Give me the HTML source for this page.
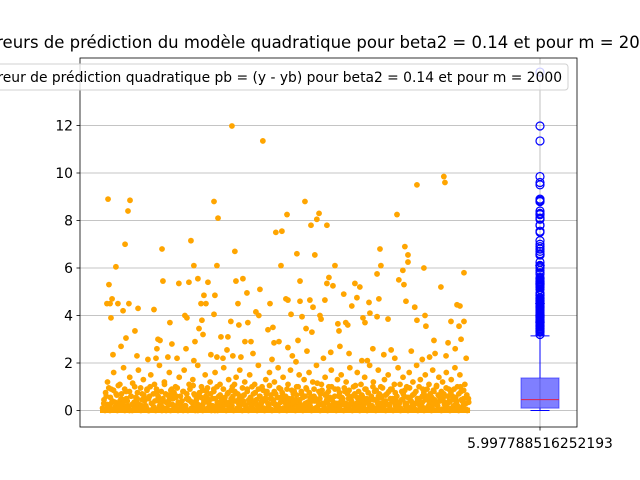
<!DOCTYPE html>
<html><head><meta charset="utf-8"><style>
body{margin:0;background:#fff;}
svg{display:block;font-family:"DejaVu Sans","Liberation Sans",sans-serif;}
</style></head><body>
<svg id="c" width="640" height="480"></svg>
<script>
const yTicks=[0,2,4,6,8,10,12];
const xTickLabels=["5.997788516252193"];
const outIdx=[33,153,142,612,634,126,328,486,950,76,502,628,726,710,879,38,333,420,475,524,579,732,770,863,55,27,44,87,147,115,197,284,557,617,541,568,743,792,918,49,371,453,464,546,612,704,748,797,841,857,934,180,530,131,306,317,508,552,650,688,781,814,907,104,300,382,459,683,60,191,251,295,360,410,502,595,628,661,715,759,825,929,
1109,1186,1174,1011,1142,1229,983,1721,1868,1874,1612,1655,1672,1672,1519,1524,1503,1759,1978,1852,1065,978,1273,1163,1082,1240,1229,1262,1382,1409,1644,1622,1650,1661,1709,1940,1956,1321,1365,1393,1459,1136,1218,1005,1016,1082,1153,1513,1464,1503,1563,1721,1765,1978,1907,1951,1033,1093,1197,1191,1332,1289,1343,1437,1426,1115,1147,1295,1770,1962,1814,1891,1071,940,967,1016,
1040,1120,1210,1300,1350,1420,1480,1540,1600,1690,1750,1820,1880,1930,1990,1060,1250,1450,1580,1790];
const outY=[8.9,8.85,8.4,8.8,8.1,7.0,6.8,7.15,7.5,6.05,6.1,6.1,6.7,11.98,11.35,5.3,5.45,5.35,5.4,5.55,5.4,5.45,5.55,5.1,4.7,4.5,4.5,4.5,4.5,4.2,4.3,4.25,4.85,4.85,4.5,4.5,4.5,4.95,4.5,3.9,3.7,4.0,3.9,3.8,4.05,3.75,3.6,3.7,4.15,4.0,3.5,3.35,3.45,3.05,3.0,2.95,2.9,3.2,3.1,3.1,2.9,2.9,3.4,2.7,2.6,2.8,2.6,2.55,2.35,2.3,2.15,2.2,2.25,2.2,2.1,2.35,2.25,2.2,2.3,2.25,2.4,2.15,
8.8,8.3,8.05,8.25,7.8,7.8,7.55,9.5,9.85,9.6,8.25,6.9,6.55,6.25,6.8,6.1,5.75,6.0,5.8,5.2,6.6,6.1,6.1,6.55,5.45,5.6,5.35,5.25,5.35,5.2,5.9,5.5,5.3,4.6,4.35,4.45,4.4,4.9,4.4,4.75,4.55,4.65,4.65,4.7,4.65,4.6,4.35,4.7,4.1,3.95,3.85,3.8,4.0,3.75,3.75,3.55,4.05,3.95,3.85,4.0,3.7,3.65,3.6,3.7,3.9,3.45,3.3,3.35,3.55,3.0,2.95,2.85,2.95,2.85,2.9,2.65,
2.3,2.5,2.2,2.7,2.4,2.1,2.6,2.35,2.2,2.5,2.15,2.4,2.3,2.6,2.2,2.05,2.45,2.1,2.55,2.25];
const bandY=[0.1,0.3,0.0,0.6,1.2,0.2,0.0,0.9,0.4,1.6,0.1,0.7,0.0,0.3,1.1,0.5,0.2,1.8,0.0,0.8,0.4,0.1,1.4,0.6,0.0,0.3,1.0,0.2,0.5,1.7,0.1,0.0,0.7,1.3,0.4,0.2,0.9,0.0,0.6,1.5,0.3,0.1,1.1,0.0,0.8,0.5,1.9,0.2,0.0,0.4,1.2,0.7,0.1,0.3,1.6,0.0,0.9,0.5,0.2,1.0,
0.6,0.0,1.4,0.3,0.1,0.8,1.7,0.2,0.5,0.0,1.1,0.4,0.1,1.3,0.7,0.0,0.3,1.9,0.6,0.2,1.0,0.0,0.4,1.5,0.8,0.1,0.3,1.2,0.0,0.5,0.9,1.6,0.2,0.0,0.6,1.1,0.3,0.1,1.8,0.4,0.0,0.7,1.3,0.2,0.5,1.0,0.0,0.8,1.4,0.1,0.3,1.7,0.6,0.0,0.4,1.2,
0.2,0.9,0.0,1.5,0.5,0.1,0.7,1.1,0.3,0.0,1.9,0.6,0.2,1.0,0.4,0.0,1.3,0.8,0.1,1.6,0.5,0.0,0.3,1.2,0.7,0.2,1.8,0.0,0.9,0.4,1.4,0.1,0.6,0.0,1.1,0.3,1.7,0.5,0.2,0.8,0.0,1.0,0.4,1.5,0.1,0.7,0.0,1.3,0.3,0.9,0.2,1.6,0.5,0.0,1.2,0.6,0.1,1.9,0.4,0.8,
0.0,1.1,0.3,0.2,1.4,0.7,0.0,1.0,0.5,1.7,0.1,0.3,0.9,0.0,1.3,0.6,0.2,1.5,0.4,0.0,0.8,1.2,0.1,0.5,1.8,0.3,0.0,1.0,0.7,0.2,1.6,0.4,0.0,1.1,0.6,0.1,1.4,0.9,0.0,0.3,1.9,0.5,0.2,1.2,0.8,0.0,0.4,1.7,0.1,1.0,0.6,0.3,1.3,0.0,0.7,1.5,0.2,0.9,0.4,0.0,
1.1,0.5,0.1,1.8,0.3,0.0,0.8,1.4,0.6,0.2,1.0,0.0,1.6,0.4,0.1,1.2,0.7,0.3,1.9,0.0,0.5,1.3,0.2,0.9,0.0,1.5,0.6,0.1,1.1,0.4,0.0,1.7,0.8,0.3,1.0,0.2,1.4,0.5,0.0,1.2,0.7,0.1,1.6,0.3,0.9,0.0,1.3,0.6,0.2,1.8,0.4,1.0,0.0,1.5,0.8,0.1,0.5,1.1,0.3,0.0];
const bandY2=[0.45,0.75,0.25,0.95,0.55,0.35,0.85,0.15,0.65,1.05,0.4,0.7,0.3,0.9,0.5,0.2,0.8,0.6,1.15,0.35,0.55,0.75,0.25,0.95,0.45,0.65,0.15,0.85,0.5,1.0,0.3,0.7,0.4,0.9,0.6,0.2,0.8,0.5,1.1,0.35,0.65,0.45,0.85,0.25,0.75,0.55,0.95,0.3,0.6,0.4,0.8,0.2,0.7,0.5,0.9,0.35,1.05,0.65,0.45,0.25,
0.75,0.55,0.85,0.35,0.6,0.95,0.4,0.7,0.2,0.8,0.5,1.0,0.3,0.65,0.45,0.9,0.55,0.25,0.75,0.35,0.85,0.6,1.1,0.4,0.7,0.5,0.3,0.95,0.65,0.2,0.8,0.45,0.55,1.0,0.35,0.75,0.25,0.9,0.6,0.4,0.85,0.5,0.7,0.3,1.05,0.65,0.45,0.8,0.2,0.55,0.95,0.35,0.75,0.6,0.4,0.9,0.5,0.25,0.85,0.7,
0.3,0.65,1.0,0.45,0.8,0.55,0.2,0.95,0.35,0.75,0.6,0.4,0.9,0.5,1.15,0.25,0.7,0.85,0.3,0.65,0.45,0.8,0.55,1.0,0.35,0.6,0.2,0.9,0.75,0.4,0.5,0.95,0.3,0.7,0.85,0.45,0.6,0.25,1.05,0.55,0.8,0.35,0.65,0.4,0.9,0.5,0.75,0.2,0.6,1.0,0.45,0.85,0.3,0.7,0.55,0.95,0.4,0.65,0.25,0.8,
0.5,0.9,0.35,0.75,0.6,0.2,1.1,0.45,0.7,0.85,0.3,0.55,0.95,0.4,0.65,0.25,0.8,0.5,1.0,0.35,0.6,0.75,0.45,0.9,0.2,0.7,0.55,0.85,0.3,1.05,0.65,0.4,0.8,0.5,0.25,0.95,0.6,0.35,0.75,0.45,0.9,0.55,0.2,0.7,1.0,0.4,0.85,0.3,0.65,0.5];
const bandY3=[0.05,0.15,0.25,0.05,0.35,0.1,0.2,0.05,0.45,0.15,0.0,0.25,0.1,0.35,0.05,0.2,0.55,0.1,0.0,0.3,0.15,0.05,0.4,0.2,0.1,0.0,0.25,0.65,0.05,0.15,0.35,0.1,0.0,0.2,0.45,0.05,0.3,0.1,0.0,0.15,0.25,0.05,0.5,0.1,0.2,0.0,0.35,0.15,0.05,0.25,
0.3,0.1,0.2,0.4,0.05,0.15,0.6,0.25,0.1,0.35,0.2,0.05,0.45,0.15,0.3,0.1,0.5,0.2,0.05,0.4,0.25,0.15,0.55,0.1,0.3,0.2,0.05,0.35,0.45,0.15,0.25,0.1,0.6,0.3,0.2,0.05,0.4,0.15,0.5,0.25,0.1,0.35,0.2,0.45,0.05,0.3,0.15,0.55,0.25,0.1,
0.2,0.4,0.1,0.3,0.15,0.5,0.25,0.05,0.35,0.2,0.45,0.1,0.6,0.3,0.15,0.4,0.25,0.05,0.5,0.2,0.35,0.1,0.45,0.3,0.15,0.55,0.25,0.05,0.4,0.2,0.35,0.1,0.5,0.3,0.15,0.45,0.25,0.6,0.05,0.35,0.2,0.4,0.1,0.5,0.3,0.15,0.45,0.25,0.05,0.35];
const boxStats={q1:0.1,median:0.46,q3:1.37,whiskLo:0.0,whiskHi:3.14};
const extraFliers=[14.25];

const NS="http://www.w3.org/2000/svg";
const svg=document.getElementById('c');
function mk(t,a,p){const e=document.createElementNS(NS,t);for(const k in a)e.setAttribute(k,a[k]);(p||svg).appendChild(e);return e;}
const L=80,R=577,T=58,B=427;
const yS=v=>410.5-v*23.75;
const xS=i=>102+i/2000*366;
const boxX=540;

yTicks.forEach(v=>{
  const g=mk('line',{x1:L,x2:R,y1:yS(v),y2:yS(v),stroke:'#b0b0b0','stroke-width':0.8});
  
  
});
const vg=mk('line',{x1:boxX,x2:boxX,y1:T,y2:B,stroke:'#b0b0b0','stroke-width':0.8});



const sg=mk('g',{fill:'orange'});


function plotBand(arr,off){
  arr.forEach((v,i)=>{
    const c=mk('circle',{cx:xS(i*2000/arr.length+off),cy:yS(v),r:2.9},sg);
    
    
  });
}
plotBand(bandY,3);
plotBand(bandY2,11);
plotBand(bandY3,17);
outIdx.forEach((ix,i)=>{
  const c=mk('circle',{cx:xS(ix),cy:yS(outY[i]),r:2.9},sg);
  
  
});
const zl=mk('rect',{x:xS(0)-2,y:yS(0.12),width:xS(2000)-xS(0)+4,height:yS(0)-yS(0.12)+2.5,fill:'orange'});



const bg=mk('g',{});


const box=mk('rect',{x:boxX-19,y:yS(boxStats.q3),width:38,height:yS(boxStats.q1)-yS(boxStats.q3),fill:'rgba(0,0,255,0.5)',stroke:'rgba(0,0,255,0.5)'},bg);


const med=mk('line',{x1:boxX-19,x2:boxX+19,y1:yS(boxStats.median),y2:yS(boxStats.median),stroke:'#e0204a','stroke-width':1},bg);


[[boxStats.q3,boxStats.whiskHi],[boxStats.q1,boxStats.whiskLo]].forEach(p=>{
  const w=mk('line',{x1:boxX,x2:boxX,y1:yS(p[0]),y2:yS(p[1]),stroke:'blue','stroke-width':1},bg);
  
  
  const c=mk('line',{x1:boxX-9.5,x2:boxX+9.5,y1:yS(p[1]),y2:yS(p[1]),stroke:'blue','stroke-width':1},bg);
  
  
});
outY.concat(extraFliers).filter(v=>v>boxStats.whiskHi).forEach(v=>{
  const f=mk('circle',{cx:boxX,cy:yS(v),r:4,fill:'none',stroke:'blue','stroke-width':1.2},bg);
  
  
});

const fr=mk('rect',{x:L,y:T,width:R-L,height:B-T,fill:'none',stroke:'#000','stroke-width':0.8});


yTicks.forEach(v=>{
  const t=mk('line',{x1:L-3.5,x2:L,y1:yS(v),y2:yS(v),stroke:'#000','stroke-width':0.8});
  
  
  const l=mk('text',{x:L-7,y:yS(v)+5,'text-anchor':'end','font-size':13.9});
  l.textContent=v;
  
  
});
const xt=mk('line',{x1:boxX,x2:boxX,y1:B,y2:B+3.5,stroke:'#000','stroke-width':0.8});


const xl=mk('text',{x:boxX,y:448,'text-anchor':'middle','font-size':13.9});
xl.textContent=xTickLabels[0];



const ti=mk('text',{x:320,y:48,'text-anchor':'middle','font-size':16.5});
ti.textContent="Erreurs de prédiction du modèle quadratique pour beta2 = 0.14 et pour m = 2000";



const lg=mk('g',{});


mk('rect',{x:-60,y:64,width:628,height:26,rx:3,fill:'rgba(255,255,255,0.8)',stroke:'#d0d0d0','stroke-width':1},lg);
const lt=mk('text',{x:562,y:82,'text-anchor':'end','font-size':13.85},lg);
lt.textContent="Erreur de prédiction quadratique pb = (y - yb) pour beta2 = 0.14 et pour m = 2000";


</script>
</body></html>
